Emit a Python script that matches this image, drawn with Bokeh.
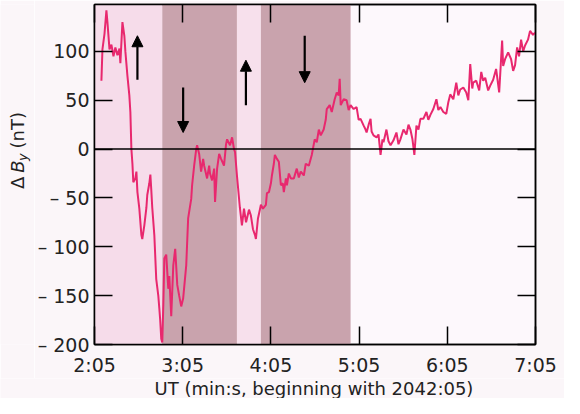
import numpy as np
from bokeh.plotting import figure
from bokeh.layouts import row, column
from bokeh.models import (BoxAnnotation, Arrow, NormalHead, LinearAxis, FixedTicker,
                          Range1d, Span)
from bokeh.embed import file_html
from bokeh.resources import INLINE
from bokeh.core.properties import value

# time in seconds after 2042:00 UT (2:05 = 125 s), Delta B_y in nT
t_sec = [129.7, 130.4, 131.8, 133.1, 133.8, 135.2, 136.5, 137.9, 139.2, 140.6,
         142.0, 142.6, 144.0, 145.3, 146.0, 147.4, 148.7, 149.4, 150.1, 150.8,
         151.4, 152.8, 153.5, 154.2, 155.5, 156.9, 157.5, 158.9, 160.3, 160.9,
         162.3, 163.0, 163.6, 164.3, 165.7, 167.0, 168.4, 169.1, 169.7, 170.4,
         171.1, 171.8, 172.5, 173.8, 175.2, 175.9, 177.2, 178.6, 179.9, 181.3,
         182.6, 184.0, 185.3, 187.4, 188.7, 190.8, 191.4, 192.8, 194.2, 194.8,
         196.2, 197.5, 198.9, 199.6, 201.6, 203.0, 203.6, 205.0, 206.4, 207.0,
         208.4, 209.8, 211.1, 213.1, 214.5, 215.2, 217.2, 218.6, 219.9, 220.6,
         221.9, 223.9, 225.3, 226.7, 228.1, 228.7, 230.1, 231.4, 232.8, 234.2,
         234.8, 236.2, 237.5, 238.2, 239.6, 241.6, 242.3, 243.7, 245.0, 245.7,
         247.0, 247.7, 249.1, 250.4, 251.8, 253.1, 253.8, 255.2, 255.9, 257.2,
         258.6, 260.6, 262.6, 264.0, 265.3, 267.4, 268.7, 270.8, 272.8, 274.8,
         276.2, 277.6, 278.9, 280.9, 282.3, 283.0, 285.0, 286.4, 288.4, 289.8,
         291.1, 291.8, 292.5, 294.5, 296.5, 297.9, 299.2, 301.3, 303.3, 304.7,
         306.0, 308.1, 309.4, 310.1, 311.5, 312.8, 313.5, 314.8, 316.9, 318.2,
         319.6, 320.9, 321.6, 323.6, 325.0, 326.4, 328.4, 330.4, 331.8, 333.1,
         335.2, 337.2, 338.6, 339.9, 341.3, 342.6, 344.0, 345.4, 346.7, 348.7,
         350.8, 352.1, 353.5, 355.5, 357.6, 358.9, 360.3, 362.3, 364.3, 365.7,
         367.0, 369.1, 371.1, 372.5, 373.8, 375.9, 377.9, 379.3, 380.6, 382.0,
         382.6, 384.7, 386.7, 388.1, 389.4, 390.8, 392.8, 394.2, 396.2, 398.2,
         400.3, 402.3, 403.0, 404.3, 406.4, 408.4, 409.8, 411.1, 412.5, 413.8,
         415.2, 416.6, 417.9, 419.9, 421.3, 423.3, 424.7]
dby = [70, 102, 118, 142, 130, 102, 107, 95, 104, 96,
       103, 88, 130, 116, 100, 75, 55, 38, 0, -15,
       -34, -30, -23, -44, -61, -88, -92, -78, -60, -47,
       -35, -26, -41, -60, -88, -133, -150, -163, -175, -194,
       -198, -160, -112, -108, -143, -130, -171, -119, -102, -139,
       -150, -161, -153, -119, -71, -51, -37, -17, 0, 4,
       -5, -23, -10, -17, -30, -17, -25, -32, -20, -54,
       -20, -5, -10, -17, 5, 10, 4, 12, 0, -3,
       -27, -60, -78, -61, -75, -71, -62, -68, -82, -88,
       -92, -71, -62, -57, -61, -57, -45, -44, -35, -27,
       -15, -6, -10, -13, -37, -35, -44, -30, -37, -25,
       -30, -30, -20, -29, -23, -27, -15, -17, -6, 10,
       7, 20, 14, 20, 30, 41, 45, 38, 51, 58,
       55, 72, 45, 51, 50, 40, 45, 41, 43, 30,
       31, 24, 20, 17, 25, 31, 18, 14, 12, 15,
       -6, 10, 7, 20, 8, 4, 9, 17, 5, 10,
       20, 15, 25, 20, 10, -6, 24, 20, 31, 31,
       38, 30, 35, 41, 51, 40, 43, 38, 36, 48,
       56, 51, 68, 55, 61, 63, 58, 50, 87, 62,
       68, 70, 60, 79, 70, 73, 60, 65, 71, 82,
       58, 111, 85, 92, 99, 92, 80, 86, 104, 95,
       112, 100, 106, 112, 121, 117, 119]

x_ticks = [125, 185, 245, 305, 365, 425]
x_tick_labels = ["2:05", "3:05", "4:05", "5:05", "6:05", "7:05"]
y_ticks = [-200, -150, -100, -50, 0, 50, 100, 150]
y_tick_labels = ["\u2013 200", "\u2013 150", "\u2013 100", "\u2013 50", "0", "50", "100", "150"]

shade_start = [125.0, 171.1, 221.9, 238.2]
shade_end = [171.1, 221.9, 238.2, 299.2]
shade_color = ["#f6dcea", "#c9a3ad", "#f7e0ec", "#c9a3ad"]

arrow_t = [154.2, 185.3, 228.0, 268.0]
arrow_from = [71, 63, 45, 116]
arrow_to = [116, 17, 91, 68]

# y-axis title pieces: "Δ", italic "B", italic subscript "y", "(nT)"
ylab_text = ["\u0394", "B", "y", "(nT)"]
xlab_text = "UT (min:s, beginning with 2042:05)"

FONT = "DejaVu Sans"
BG = "#fbf6f9"
TXT = "#222222"
H_MAIN = 378
H_STRIP = 20
W_LAB = 34
W_MAIN = 530


def plain(fig):
    fig.outline_line_color = None
    fig.grid.visible = False
    fig.background_fill_color = BG
    fig.border_fill_color = BG


# ---- narrow panel carrying the rotated y-axis title ----
lab = figure(width=W_LAB, height=H_MAIN, x_range=Range1d(0, W_LAB), y_range=Range1d(0, H_MAIN),
             output_backend="svg", toolbar_location=None, x_axis_type=None, y_axis_type=None,
             min_border=0, title=None)
plain(lab)
ang = np.pi / 2
lab.text(x=[17], y=[173], text=[ylab_text[0]], angle=ang, text_align="left",
         text_baseline="middle", text_font=value(FONT), text_font_size="18px", text_color=TXT)
lab.text(x=[17], y=[191], text=[ylab_text[1]], angle=ang, text_align="left",
         text_baseline="middle", text_font=value(FONT), text_font_size="18px",
         text_font_style="italic", text_color=TXT)
lab.text(x=[22], y=[204], text=[ylab_text[2]], angle=ang, text_align="left",
         text_baseline="middle", text_font=value(FONT), text_font_size="13px",
         text_font_style="italic", text_color=TXT)
lab.text(x=[17], y=[218], text=[ylab_text[3]], angle=ang, text_align="left",
         text_baseline="middle", text_font=value(FONT), text_font_size="18px", text_color=TXT)

# ---- main plot ----
p = figure(width=W_MAIN, height=H_MAIN, x_range=Range1d(125, 425), y_range=Range1d(-200, 148),
           output_backend="svg", toolbar_location=None, title=None,
           min_border_left=58, min_border_right=29, min_border_top=4, min_border_bottom=34)
p.background_fill_color = "#fdf8fc"
p.border_fill_color = BG
p.grid.visible = False
p.outline_line_color = "black"
p.outline_line_width = 1.5

for s, e, c in zip(shade_start, shade_end, shade_color):
    p.add_layout(BoxAnnotation(left=s, right=e, fill_color=c, fill_alpha=1.0,
                               line_color=None, level="underlay"))

p.line(t_sec, dby, line_color="#e8286e", line_width=2.0)

p.add_layout(Span(location=0, dimension="width", line_color="black", line_width=1.5))

for t, a, b in zip(arrow_t, arrow_from, arrow_to):
    p.add_layout(Arrow(end=NormalHead(size=11, fill_color="black", line_color="black"),
                       x_start=t, y_start=a, x_end=t, y_end=b,
                       line_color="black", line_width=2.2))


def style(ax, ticks, labels, show):
    ax.ticker = FixedTicker(ticks=ticks)
    ax.major_tick_in = 18
    ax.major_tick_out = 0
    ax.major_tick_line_color = "black"
    ax.major_tick_line_width = 1.5
    ax.minor_tick_line_color = None
    ax.axis_line_color = "black"
    ax.axis_line_width = 1.5
    if show:
        ax.major_label_overrides = dict(zip(ticks, labels))
        ax.major_label_text_font = FONT
        ax.major_label_text_font_size = "19px"
        ax.major_label_text_color = TXT
    else:
        ax.major_label_overrides = {t: "" for t in ticks}
        ax.major_label_text_font_size = "0px"
        ax.major_label_standoff = 0


style(p.xaxis[0], x_ticks, x_tick_labels, True)
style(p.yaxis[0], y_ticks, y_tick_labels, True)
p.xaxis[0].major_label_standoff = 9
p.yaxis[0].major_label_standoff = 5

top = LinearAxis()
style(top, x_ticks, x_tick_labels, False)
p.add_layout(top, "above")
right = LinearAxis()
style(right, y_ticks, y_tick_labels, False)
p.add_layout(right, "right")

# ---- strip carrying the x-axis title ----
strip = figure(width=W_LAB + W_MAIN, height=H_STRIP, x_range=Range1d(0, W_LAB + W_MAIN),
               y_range=Range1d(0, H_STRIP), output_backend="svg", toolbar_location=None,
               x_axis_type=None, y_axis_type=None, min_border=0, title=None)
plain(strip)
strip.text(x=[313.5], y=[H_STRIP / 2], text=[xlab_text], text_align="center",
           text_baseline="middle", text_font=value(FONT), text_font_size="18px",
           text_color=TXT)

layout = column(row(lab, p), strip)
open("out.html", "w").write(file_html(layout, INLINE))
